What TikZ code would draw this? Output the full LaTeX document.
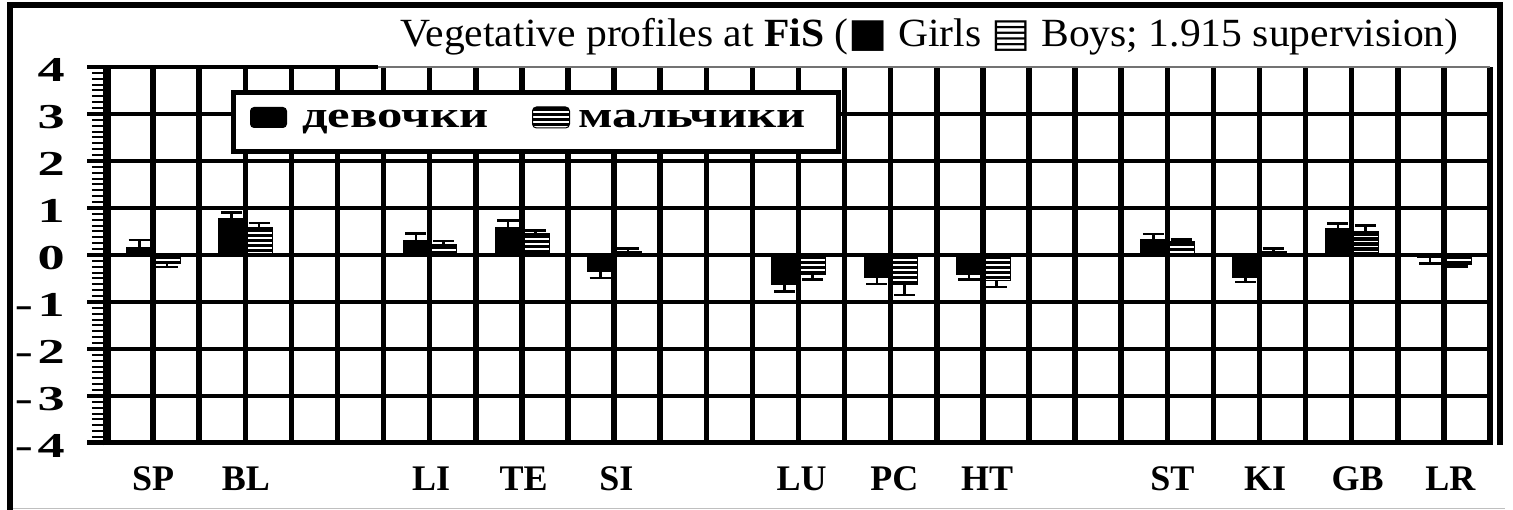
\documentclass[tikz,border=0pt]{standalone}
\usepackage{fontspec}
\setmainfont{Liberation Serif}
\newfontfamily\symbfont{DejaVu Sans}
\usetikzlibrary{positioning}
\definecolor{framegray}{gray}{.75}
\definecolor{topgray}{gray}{.45}
\newcommand{\colw}{46.1pt}
\newcommand{\unitv}{47pt}
\tikzset{
    girls/.style={fill=black},
    boys/.style={fill=black, draw=black, line width=1pt,
        path picture={
            \foreach \k in {1,...,40}
                \draw[white, line width=1.8pt]
                    ([yshift=-\k*5pt]path picture bounding box.north west) -- ([yshift=-\k*5pt]path picture bounding box.north east);
        }
    },
    errbar/.style={line width=2.5pt},
    vgrid/.style={line width=5.5pt},
    hgrid/.style={line width=4pt},
    ylab/.style={anchor=east, inner sep=0pt, font=\fontsize{35}{35}\selectfont\bfseries, xscale=1.55},
    catlab/.style={anchor=base, inner sep=0pt, font=\fontsize{36}{36}\selectfont\bfseries},
    legtext/.style={anchor=base west, inner sep=0pt, font=\fontsize{37}{37}\selectfont\bfseries, xscale=1.37},
    legkey/.style={minimum width=37pt, minimum height=21pt, rounded corners=4pt, inner sep=0pt}
}

\begin{document}
\begin{tikzpicture}[x=1pt, y=-1pt]
    \useasboundingbox (0,0) rectangle (1513,510);

    % outer frame
    \draw[framegray, line width=1pt] (10,508) -- (1505,508);
    \draw[line width=6pt] (10,510) -- (10,5) -- (1500,5) -- (1500,445);

    \node[anchor=base west, inner sep=0pt, font=\fontsize{40}{40}\selectfont, xscale=1.04] (title) at (400,47)
        {Vegetative profiles at \textbf{FiS} ({\symbfont ■} Girls {\symbfont ▤} Boys; 1.915 supervision)};

    \begin{scope}[shift={(107,255)}, x=\colw, y=\unitv]
        % bars with error caps
        \foreach \lab/\slot/\g/\ge/\b/\be in {SP/0/0.17/0.32/-0.18/-0.26, BL/1/0.79/0.9/0.58/0.68,
                LI/3/0.32/0.46/0.22/0.3, TE/4/0.6/0.73/0.45/0.52, SI/5/-0.36/-0.49/0.08/0.14,
                LU/7/-0.64/-0.78/-0.42/-0.52, PC/8/-0.5/-0.62/-0.62/-0.85, HT/9/-0.42/-0.52/-0.55/-0.68,
                ST/11/0.33/0.45/0.28/0.33, KI/12/-0.49/-0.57/0.08/0.14, GB/13/0.57/0.67/0.5/0.63,
                LR/14/-0.06/-0.18/-0.2/-0.25}{
            \fill[girls] ({2*\slot+0.41},0) rectangle ({2*\slot+1},\g);
            \draw[boys] ({2*\slot+1},0) rectangle ({2*\slot+1.59},\b);
            \draw[errbar] ({2*\slot+0.7},\g) -- ({2*\slot+0.7},\ge)
                ({2*\slot+0.47},\ge) -- ({2*\slot+0.93},\ge);
            \draw[errbar] ({2*\slot+1.3},\b) -- ({2*\slot+1.3},\be)
                ({2*\slot+1.07},\be) -- ({2*\slot+1.53},\be);
            \node[catlab] (lab\slot) at ({2*\slot+1+0.01*\slot},-5) {\lab};
        }

        % grid
        \foreach \i in {1,...,30}
            \draw[vgrid] (\i,-4) -- (\i,4);
        \foreach \v in {-3,...,3}
            \draw[hgrid] (-0.43,\v) -- (30,\v);
        \draw[line width=5pt] (-0.43,-4) -- (30.06,-4);
        \draw[topgray, line width=1.5pt] (0,4) -- (30,4);
        \draw[line width=4pt] (-0.43,4) -- (5.88,4);

        % axis and ticks
        \foreach \t in {0,...,64}
            \draw[line width=2pt] (-0.33,{-4+\t/8}) -- (0,{-4+\t/8});
        \draw[line width=8pt] (0,-4.05) -- (0,4.03);
        \foreach \v [count=\i] in {-4,...,4}
            \node[ylab] (yl\i) at (-0.91,{\v-0.06}) {\ifnum\v<0 -\kern3pt\the\numexpr-\v\relax\else\v\fi};
    \end{scope}

    % legend
    \node[draw, line width=5pt, fill=white, minimum width=605pt, minimum height=59pt, anchor=north west] (legend) at (230.5,90.5) {};
    \node[legkey, girls] (keyG) at (268.5,117.5) {};
    \node[legtext] (txtG) at (302,128) {девочки};
    \node[legkey, boys] (keyB) at (551,117.5) {};
    \node[legtext] (txtB) at (578,128) {мальчики};
\end{tikzpicture}
\end{document}
